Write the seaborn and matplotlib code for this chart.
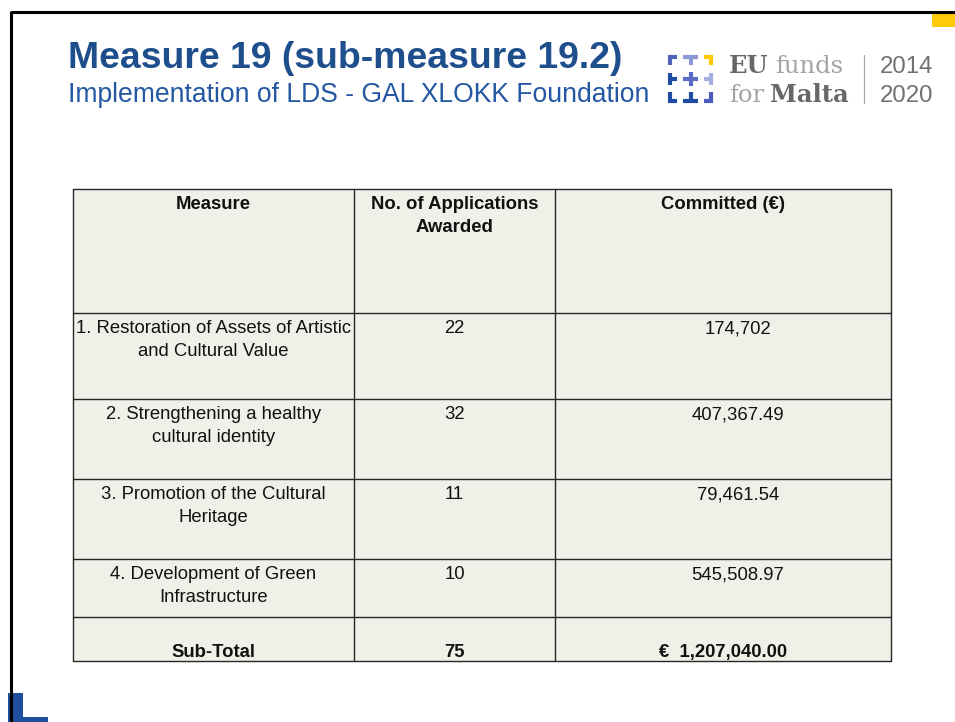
import numpy as np
import seaborn as sns
import matplotlib.pyplot as plt
from matplotlib.patches import Rectangle

# table data
headers = ["Measure", "No. of Applications\nAwarded", "Committed (\u20ac)"]
measures = [
    "1. Restoration of Assets of Artistic\nand Cultural Value",
    "2. Strengthening a healthy\ncultural identity",
    "3. Promotion of the Cultural\nHeritage",
    "4. Development of Green\nInfrastructure",
]
applications = [22, 32, 11, 10]
committed = [174702, 407367.49, 79461.54, 545508.97]
total_label = "Sub-Total"

# layout (pixels, y from top)
col_edges = [73, 354, 555, 891]
row_edges = [189, 313, 399, 479, 559, 617, 661]

TITLE_BLUE = "#1F4E8C"
SUB_BLUE = "#2458A2"
CELL_FILL = "#EFF1E9"
GRID = "#262626"


def fmt_money(v):
    if float(v).is_integer():
        return f"{v:,.0f}"
    return f"{v:,.2f}"


def cell_lines(ax, text, xc, top, bold=False, size=13.3):
    for i, line in enumerate(text.split("\n")):
        ax.text(xc, top + 20 + i * 22.5, line, ha="center", va="baseline",
                fontsize=size, fontweight="bold" if bold else "normal",
                color="#111111")


def word_pair(ax, fig, x, y, first, second, bold_first, size, dark, light,
              gap=6):
    # put two words next to each other, second one right after the first
    serif = ["DejaVu Serif"]
    t1 = ax.text(x, y, first, family=serif, fontsize=size, va="baseline",
                 fontweight="bold" if bold_first else "normal",
                 color=dark if bold_first else light)
    r = fig.canvas.get_renderer()
    bb = t1.get_window_extent(renderer=r)
    x2 = ax.transData.inverted().transform((bb.x1, bb.y0))[0] + gap
    ax.text(x2, y, second, family=serif, fontsize=size, va="baseline",
            fontweight="normal" if bold_first else "bold",
            color=light if bold_first else dark)


def main():
    sns.set_theme(style="white")
    plt.rcParams['font.family'] = ['Liberation Sans', 'DejaVu Sans']

    fig = plt.figure(figsize=(9.55, 7.22), dpi=100)
    ax = fig.add_axes([0, 0, 1, 1])
    ax.set_xlim(0, 955)
    ax.set_ylim(722, 0)
    ax.axis("off")

    # slide frame
    ax.plot([11, 955], [12, 12], color="black", lw=2.2, solid_capstyle="butt")
    ax.add_patch(Rectangle((932, 13), 23, 14, color="#FDCB0A", lw=0))
    ax.add_patch(Rectangle((8, 693), 15, 29, color="#1F4E9C", lw=0))
    ax.add_patch(Rectangle((8, 717), 40, 5, color="#1F4E9C", lw=0))
    ax.plot([11, 11], [11, 722], color="black", lw=2.2, solid_capstyle="butt")

    # titles
    ax.text(68, 68, "Measure 19 (sub-measure 19.2)", fontsize=26.9,
            fontweight="bold", color=TITLE_BLUE, va="baseline")
    ax.text(68, 102, "Implementation of LDS - GAL XLOKK Foundation",
            fontsize=19.1, color=SUB_BLUE, va="baseline")

    # EU funds logo
    icon = [
        ("#4F63B8", [(668, 677, 57, 57), (670, 670, 55, 65)]),
        ("#8D98D6", [(683, 698, 57, 57), (690.5, 690.5, 55, 65)]),
        ("#FFC800", [(704, 713, 57, 57), (711, 711, 55, 65)]),
        ("#1F4BA5", [(670, 670, 73, 85), (668, 677, 79, 79)]),
        ("#5A6CC4", [(683, 698, 79, 79), (690.5, 690.5, 72, 86)]),
        ("#A5AEE0", [(711, 711, 73, 85), (704, 713, 79, 79)]),
        ("#1F4BA5", [(670, 670, 92, 103), (668, 677, 101, 101)]),
        ("#1F4BA5", [(683, 698, 101, 101), (690.5, 690.5, 92, 103)]),
        ("#4A5CBB", [(711, 711, 92, 103), (704, 713, 101, 101)]),
    ]
    for color, segs in icon:
        for x0, x1, y0, y1 in segs:
            ax.plot([x0, x1], [y0, y1], color=color, lw=3.0,
                    solid_capstyle="butt")
    word_pair(ax, fig, 729, 73, "EU", "funds", True, 17.5,
              "#66676B", "#A2A3A6", gap=6)
    word_pair(ax, fig, 729, 102, "for", "Malta", False, 17.5,
              "#66676B", "#A2A3A6", gap=6)
    ax.plot([864, 864], [55, 103], color="#A8A8A8", lw=0.9)
    ax.text(880, 73, "2014", fontsize=17.3, color="#707174", va="baseline")
    ax.text(880, 102, "2020", fontsize=17.3, color="#707174", va="baseline")

    # table background + grid
    ax.add_patch(Rectangle((col_edges[0], row_edges[0]),
                           col_edges[-1] - col_edges[0],
                           row_edges[-1] - row_edges[0],
                           facecolor=CELL_FILL, edgecolor="none"))
    for y in row_edges:
        ax.plot([col_edges[0], col_edges[-1]], [y, y], color=GRID, lw=1.0)
    for x in col_edges:
        ax.plot([x, x], [row_edges[0], row_edges[-1]], color=GRID, lw=1.0)

    centers = [(col_edges[i] + col_edges[i + 1]) / 2 for i in range(3)]

    for h, xc in zip(headers, centers):
        cell_lines(ax, h, xc, row_edges[0], bold=True)

    for i, (m, n, c) in enumerate(zip(measures, applications, committed)):
        top = row_edges[i + 1]
        cell_lines(ax, m, centers[0], top)
        cell_lines(ax, str(n), centers[1], top)
        cell_lines(ax, fmt_money(c), centers[2] + 15, top)

    # sub-total row (text sits at bottom of cell)
    bottom = row_edges[-1] - 4
    totals = [total_label, str(sum(applications)),
              "\u20ac  " + f"{sum(committed):,.2f}"]
    for t, xc in zip(totals, centers):
        ax.text(xc, bottom, t, ha="center", va="baseline", fontsize=13.3,
                fontweight="bold", color="#111111")

    fig.savefig("out.png", dpi=100, facecolor="white")
    plt.close(fig)


if __name__ == "__main__":
    main()
